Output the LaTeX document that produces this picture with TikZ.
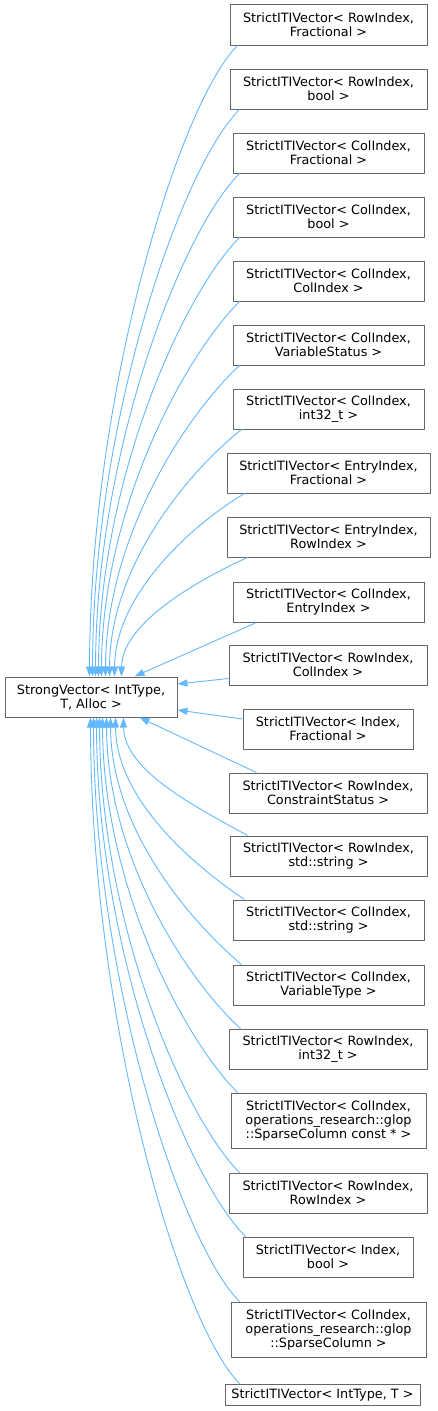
\documentclass[tikz,border=0pt]{standalone}
\usepackage{fontspec}
\setmainfont{DejaVu Sans}
\usetikzlibrary{arrows.meta}
\definecolor{edgeblue}{HTML}{63B8FF}
\definecolor{boxgray}{HTML}{666666}
\begin{document}
\begin{tikzpicture}[x=1pt,y=-1pt,
  cls/.style={draw=boxgray, fill=white, line width=1pt, inner sep=0pt, align=center,
    font=\fontsize{12.8}{14}\selectfont},
  inh/.style={draw=edgeblue, line width=0.9pt, -{Triangle[length=10pt,width=7pt,fill=edgeblue]}}]
\useasboundingbox (0,0) rectangle (437,1411);
% base
\node[cls, minimum width=172pt, minimum height=40pt] (base) at (91,697) {StrongVector< IntType,\\T, Alloc >};
% children
\node[cls, minimum width=197pt, minimum height=41pt] (c1) at (328.5,24.5) {StrictITIVector< RowIndex,\\Fractional >};
\node[cls, minimum width=197pt, minimum height=40pt] (c2) at (328.5,89) {StrictITIVector< RowIndex,\\bool >};
\node[cls, minimum width=191pt, minimum height=40pt] (c3) at (328.5,153) {StrictITIVector< ColIndex,\\Fractional >};
\node[cls, minimum width=191pt, minimum height=40pt] (c4) at (328.5,217) {StrictITIVector< ColIndex,\\bool >};
\node[cls, minimum width=191pt, minimum height=40pt] (c5) at (328.5,281) {StrictITIVector< ColIndex,\\ColIndex >};
\node[cls, minimum width=191pt, minimum height=40pt] (c6) at (328.5,345) {StrictITIVector< ColIndex,\\VariableStatus >};
\node[cls, minimum width=191pt, minimum height=40pt] (c7) at (328.5,409) {StrictITIVector< ColIndex,\\int32\_t >};
\node[cls, minimum width=203pt, minimum height=40pt] (c8) at (328.5,473) {StrictITIVector< EntryIndex,\\Fractional >};
\node[cls, minimum width=203pt, minimum height=40pt] (c9) at (328.5,537) {StrictITIVector< EntryIndex,\\RowIndex >};
\node[cls, minimum width=191pt, minimum height=40pt] (c10) at (328.5,602) {StrictITIVector< ColIndex,\\EntryIndex >};
\node[cls, minimum width=198pt, minimum height=40pt] (c11) at (328,665) {StrictITIVector< RowIndex,\\ColIndex >};
\node[cls, minimum width=170pt, minimum height=40pt] (c12) at (328,729) {StrictITIVector< Index,\\Fractional >};
\node[cls, minimum width=198pt, minimum height=40pt] (c13) at (328,793) {StrictITIVector< RowIndex,\\ConstraintStatus >};
\node[cls, minimum width=197pt, minimum height=40pt] (c14) at (328.5,856) {StrictITIVector< RowIndex,\\std::string >};
\node[cls, minimum width=191pt, minimum height=40pt] (c15) at (328.5,920) {StrictITIVector< ColIndex,\\std::string >};
\node[cls, minimum width=191pt, minimum height=40pt] (c16) at (328.5,985) {StrictITIVector< ColIndex,\\VariableType >};
\node[cls, minimum width=198pt, minimum height=40pt] (c17) at (328,1049) {StrictITIVector< RowIndex,\\int32\_t >};
\node[cls, minimum width=195pt, minimum height=55pt] (c18) at (328.5,1120.5) {StrictITIVector< ColIndex,\\operations\_research::glop\\::SparseColumn const * >};
\node[cls, minimum width=198pt, minimum height=40pt] (c19) at (328,1193) {StrictITIVector< RowIndex,\\RowIndex >};
\node[cls, minimum width=170pt, minimum height=40pt] (c20) at (328,1257) {StrictITIVector< Index,\\bool >};
\node[cls, minimum width=195pt, minimum height=55pt] (c21) at (328.5,1329.5) {StrictITIVector< ColIndex,\\operations\_research::glop\\::SparseColumn >};
\node[cls, minimum width=195pt, minimum height=21pt] (c22) at (322.5,1394.5) {StrictITIVector< IntType, T >};
% edges above
\draw[inh] ([xshift=8pt]c1.south west) .. controls (179,104) and (90,393) .. ([xshift=85pt]base.north west);
\draw[inh] ([xshift=10pt]c2.south west) .. controls (181,168) and (93,421) .. ([xshift=88pt]base.north west);
\draw[inh] ([xshift=7pt]c3.south west) .. controls (182,231) and (96,450) .. ([xshift=91pt]base.north west);
\draw[inh] ([xshift=7pt]c4.south west) .. controls (184,293) and (99,479) .. ([xshift=94pt]base.north west);
\draw[inh] ([xshift=7pt]c5.south west) .. controls (185,356) and (102,508) .. ([xshift=97pt]base.north west);
\draw[inh] ([xshift=7pt]c6.south west) .. controls (186,415) and (106,537) .. ([xshift=101pt]base.north west);
\draw[inh] ([xshift=9pt]c7.south west) .. controls (189,471) and (110,565) .. ([xshift=105pt]base.north west);
\draw[inh] ([xshift=18pt]c8.south west) .. controls (193,524) and (115,594) .. ([xshift=110pt]base.north west);
\draw[inh] ([xshift=21pt]c9.south west) .. controls (198,580) and (122,623) .. ([xshift=117pt]base.north west);
\draw[inh] ([xshift=24pt]c10.south west) -- ([xshift=130pt]base.north west);
\draw[inh] ([yshift=7pt]c11.south west) -- ([yshift=13pt]base.east);
\draw[inh] ([yshift=10pt]c12.west) -- ([yshift=-13pt]base.east);
% edges below
\draw[inh] ([xshift=28pt]c13.north west) -- ([xshift=135pt]base.south west);
\draw[inh] ([xshift=18pt]c14.north west) .. controls (198,808) and (124,771) .. ([xshift=119pt]base.south west);
\draw[inh] ([xshift=12pt]c15.north west) .. controls (193,865) and (116,799) .. ([xshift=111pt]base.south west);
\draw[inh] ([xshift=9pt]c16.north west) .. controls (190,921) and (111,829) .. ([xshift=106pt]base.south west);
\draw[inh] ([xshift=12pt]c17.north west) .. controls (187,980) and (107,857) .. ([xshift=102pt]base.south west);
\draw[inh] ([xshift=7pt]c18.north west) .. controls (184,1039) and (103,886) .. ([xshift=98pt]base.south west);
\draw[inh] ([xshift=11pt]c19.north west) .. controls (184,1117) and (100,922) .. ([xshift=95pt]base.south west);
\draw[inh] ([xshift=3pt]c20.north west) .. controls (186,1177) and (97,951) .. ([xshift=92pt]base.south west);
\draw[inh] ([xshift=9pt]c21.north west) .. controls (182,1244) and (94,980) .. ([xshift=89pt]base.south west);
\draw[inh] ([xshift=15pt]c22.north west) .. controls (178,1321) and (91,1016) .. ([xshift=86pt]base.south west);
\end{tikzpicture}
\end{document}
